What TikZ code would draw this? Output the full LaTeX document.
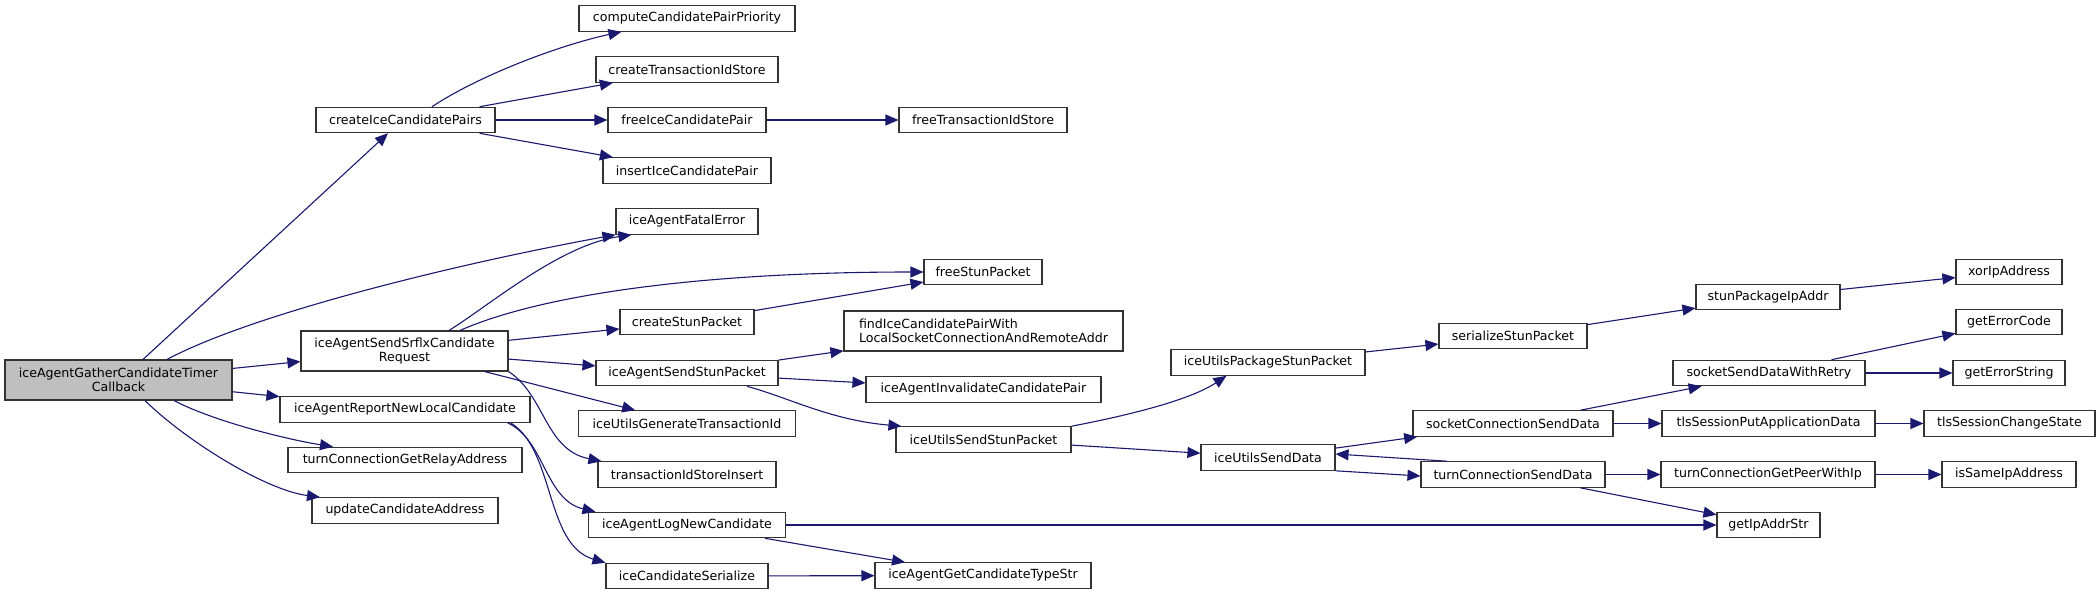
\documentclass[tikz,border=0pt]{standalone}
\usepackage{fontspec}
\setmainfont{DejaVu Sans}
\usetikzlibrary{arrows.meta,calc}
\definecolor{edgecol}{HTML}{191970}
\definecolor{gfill}{HTML}{BFBFBF}
\begin{document}
\begin{tikzpicture}[x=0.5pt,y=-0.5pt,
  box/.style={draw=black!80, line width=0.55pt, fill=white, inner sep=0pt, minimum height=12.75pt, font=\fontsize{6.3}{7.15}\selectfont, text=black},
  twoline/.style={minimum height=20pt},
  edge/.style={draw=edgecol, line width=0.55pt, -{Triangle[length=6.5pt,width=5.5pt]}}]
\fill[white] (0,0) rectangle (2100,595);
\path[use as bounding box] (0,0) rectangle (2100,595);

% rank 0
\node[box, twoline, fill=gfill, minimum width=113.5pt, align=center] (g) at (118.5,380) {iceAgentGatherCandidateTimer\\Callback};
% rank 1
\node[box, minimum width=89.5pt] (cip) at (405.5,120) {createIceCandidatePairs};
\node[box, twoline, minimum width=103.5pt, align=center] (srflx) at (404.5,351) {iceAgentSendSrflxCandidate\\Request};
\node[box, minimum width=125pt] (iarnlc) at (405,409.5) {iceAgentReportNewLocalCandidate};
\node[box, minimum width=117pt] (tcgra) at (405,460) {turnConnectionGetRelayAddress};
\node[box, minimum width=93pt] (uca) at (405,510.5) {updateCandidateAddress};
% rank 2
\node[box, minimum width=108pt] (ccpp) at (687,18.5) {computeCandidatePairPriority};
\node[box, minimum width=91pt] (ctis) at (687,69.5) {createTransactionIdStore};
\node[box, minimum width=79pt] (ficp) at (687,120) {freeIceCandidatePair};
\node[box, minimum width=84pt] (iicp) at (687,170.5) {insertIceCandidatePair};
\node[box, minimum width=71pt] (iafe) at (687,221.5) {iceAgentFatalError};
\node[box, minimum width=67pt] (csp) at (687,322) {createStunPacket};
\node[box, minimum width=91pt] (iassp) at (687,373) {iceAgentSendStunPacket};
\node[box, minimum width=108.5pt] (iugti) at (687,423.5) {iceUtilsGenerateTransactionId};
\node[box, minimum width=89pt] (tisi) at (687,474.5) {transactionIdStoreInsert};
\node[box, minimum width=98.5pt] (ialnc) at (687,525) {iceAgentLogNewCandidate};
\node[box, minimum width=81pt] (ics) at (687,576) {iceCandidateSerialize};
% rank 3
\node[box, minimum width=84pt] (ftis) at (983,120) {freeTransactionIdStore};
\node[box, minimum width=59pt] (fsp) at (983,272) {freeStunPacket};
\node[box, twoline, minimum width=139.5pt, align=left] (ficpw) at (983.5,331) {findIceCandidatePairWith\\LocalSocketConnectionAndRemoteAddr};
\node[box, minimum width=117.5pt] (iaicp) at (983.5,389.5) {iceAgentInvalidateCandidatePair};
\node[box, minimum width=87.5pt] (iussp) at (983.5,439.5) {iceUtilsSendStunPacket};
\node[box, minimum width=108pt] (iagcts) at (983,575.5) {iceAgentGetCandidateTypeStr};
% rank 4
\node[box, minimum width=97pt] (iupsp) at (1268,362.5) {iceUtilsPackageStunPacket};
\node[box, minimum width=67pt] (iusd) at (1268,457.5) {iceUtilsSendData};
% rank 5
\node[box, minimum width=74pt] (ssp) at (1513,336) {serializeStunPacket};
\node[box, minimum width=100pt] (scsd) at (1513,423.5) {socketConnectionSendData};
\node[box, minimum width=92pt] (tcsd) at (1513,474.5) {turnConnectionSendData};
% rank 6
\node[box, minimum width=72pt] (spia) at (1768,297) {stunPackageIpAddr};
\node[box, minimum width=96pt] (ssdwr) at (1769,373) {socketSendDataWithRetry};
\node[box, minimum width=106.5pt] (tspad) at (1768.5,423.5) {tlsSessionPutApplicationData};
\node[box, minimum width=107pt] (tcgpwi) at (1768,474.5) {turnConnectionGetPeerWithIp};
\node[box, minimum width=51.5pt] (gias) at (1768.5,525) {getIpAddrStr};
% rank 7
\node[box, minimum width=53pt] (xia) at (2009,272) {xorIpAddress};
\node[box, minimum width=53pt] (gec) at (2009,322) {getErrorCode};
\node[box, minimum width=56pt] (ges) at (2009,373) {getErrorString};
\node[box, minimum width=85.5pt] (tscs) at (2009.5,423.5) {tlsSessionChangeState};
\node[box, minimum width=67pt] (sia) at (2009,474.5) {isSameIpAddress};

% edges from the root
\draw[edge] ($(g.north)+(24.5,0)$) -- ($(cip.south)+(-17.5,0)$);
\draw[edge] ($(g.north)+(48.5,0)$) .. controls (250,315) and (450,265) .. (iafe.south west);
\draw[edge] (g) -- (srflx);
\draw[edge] (g) -- (iarnlc);
\draw[edge] ($(g.south)+(55.5,0)$) .. controls (215,422) and (290,440) .. ($(tcgra.north)+(-72,0)$);
\draw[edge] ($(g.south)+(26.5,0)$) .. controls (185,440) and (265,490) .. ($(uca.north)+(-85,0)$);
% createIceCandidatePairs
\draw[edge] ($(cip.north)+(26.5,0)$) .. controls (480,75) and (560,45) .. ($(ccpp.south west)+(43,0)$);
\draw[edge] (cip) -- (ctis);
\draw[edge] (cip) -- (ficp);
\draw[edge] (cip) -- (iicp);
\draw[edge] (ficp) -- (ftis);
% iceAgentSendSrflxCandidateRequest
\draw[edge] ($(srflx.north)+(44.5,0)$) .. controls (490,305) and (560,245) .. ($(iafe.south west)+(16,0)$);
\draw[edge] ($(srflx.north)+(55.5,0)$) .. controls (540,295) and (700,272) .. (fsp.west);
\draw[edge] (srflx) -- (csp);
\draw[edge] (srflx) -- (iassp);
\draw[edge] (srflx) -- (iugti);
\draw[edge] (srflx.south east) .. controls (545,395) and (545,450) .. ($(tisi.north west)+(4,0)$);
\draw[edge] (csp) -- (fsp);
% iceAgentSendStunPacket
\draw[edge] (iassp) -- (ficpw);
\draw[edge] (iassp) -- (iaicp);
\draw[edge] ($(iassp.south)+(60,0)$) .. controls (790,398) and (830,420) .. ($(iussp.north west)+(6,0)$);
% iceAgentReportNewLocalCandidate
\draw[edge] ($(iarnlc.south east)+(-23,0)$) .. controls (545,440) and (545,500) .. ($(ialnc.north west)+(7.5,0)$);
\draw[edge] ($(iarnlc.south east)+(-20,0)$) .. controls (555,450) and (545,545) .. (ics.north west);
\draw[edge] (ialnc) -- (gias);
\draw[edge] (ialnc) -- (iagcts);
\draw[edge] (ics) -- (iagcts);
% iceUtilsSendStunPacket
\draw[edge] (iussp.north east) .. controls (1130,415) and (1190,400) .. ($(iupsp.south west)+(56,0)$);
\draw[edge] (iussp) -- (iusd);
\draw[edge] (iupsp) -- (ssp);
\draw[edge] (ssp) -- (spia);
\draw[edge] (spia) -- (xia);
% iceUtilsSendData
\draw[edge] (iusd) -- (scsd);
\draw[edge] (iusd.south east) -- ($(tcsd.west)+(0,1.5)$);
\draw[edge] ($(tcsd.north west)+(26.6,0)$) -- ($(iusd.east)+(0,-3.5)$);
\draw[edge] (scsd) -- (ssdwr);
\draw[edge] (scsd) -- (tspad);
\draw[edge] (tspad) -- (tscs);
\draw[edge] (ssdwr) -- (gec);
\draw[edge] (ssdwr) -- (ges);
\draw[edge] (tcsd) -- (tcgpwi);
\draw[edge] (tcgpwi) -- (sia);
\draw[edge] (tcsd) -- (gias);
\end{tikzpicture}
\end{document}
